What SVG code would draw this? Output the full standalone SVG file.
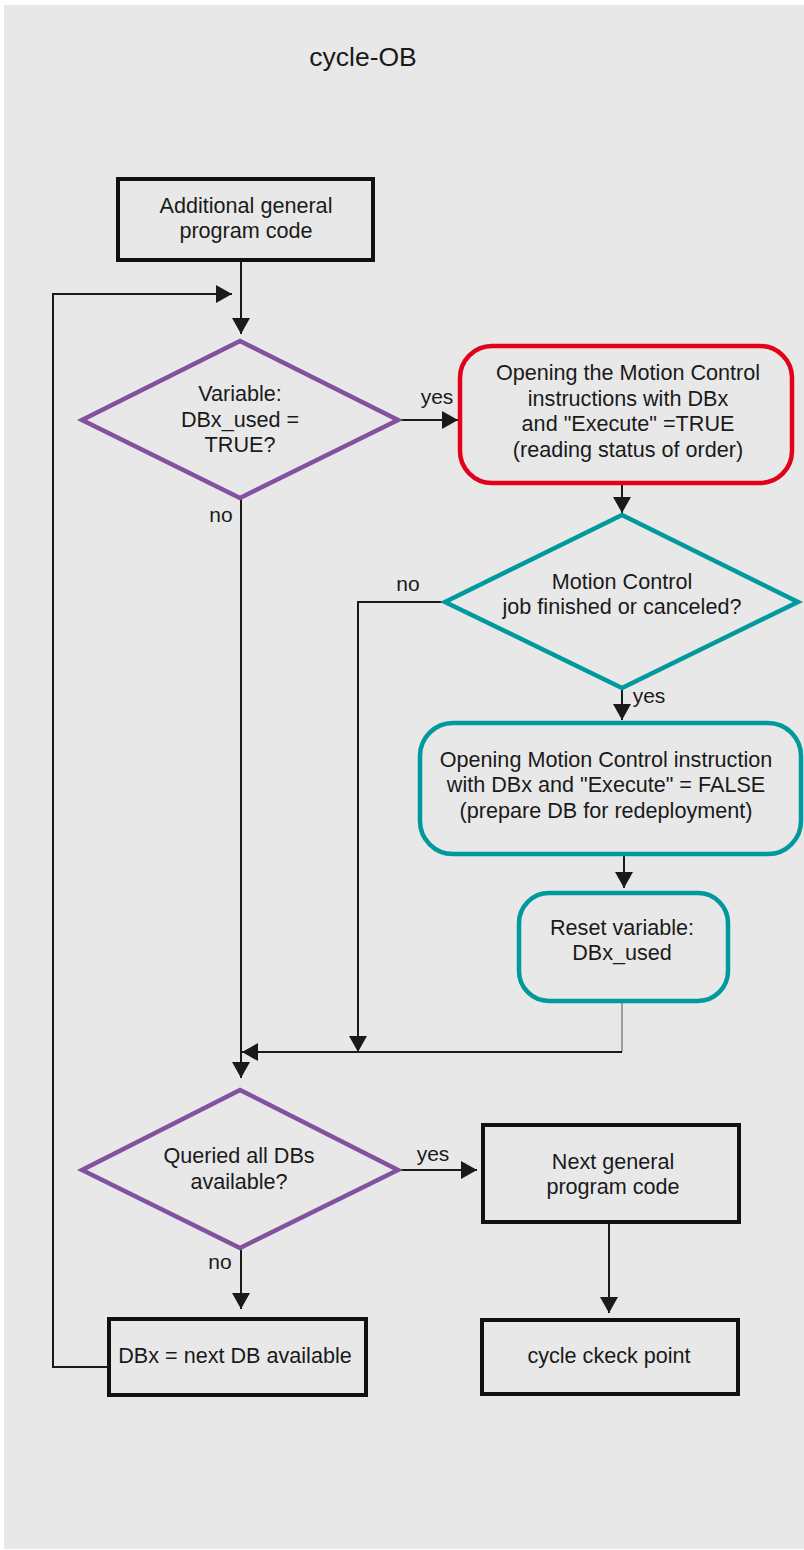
<svg xmlns="http://www.w3.org/2000/svg" width="804" height="1550" viewBox="0 0 804 1550">
<defs>
<marker id="ah" viewBox="0 0 16 18" refX="16" refY="9" markerWidth="16" markerHeight="18" markerUnits="userSpaceOnUse" orient="auto">
<path d="M0,0 L16,9 L0,18 z" fill="#1a1a1a"/>
</marker>
<style>
text{font-family:"Liberation Sans",Arial,sans-serif;font-size:21.6px;fill:#1a1a1a;text-anchor:middle}
.box{fill:none;stroke:#111;stroke-width:4}
.purple{fill:none;stroke:#8251a0;stroke-width:4.5;stroke-linejoin:miter}
.teal{fill:none;stroke:#00999e;stroke-width:4.5}
.red{fill:none;stroke:#e2001a;stroke-width:4.5}
.conn{fill:none;stroke:#1a1a1a;stroke-width:2}
.lbl{font-size:21px}
</style>
</defs>
<rect x="4" y="5" width="800" height="1544" fill="#e8e8e8"/>
<text x="363" y="66" style="font-size:26.5px">cycle-OB</text>

<g id="connectors">
<path class="conn" d="M241,262 V334" marker-end="url(#ah)"/>
<path class="conn" d="M107,1367 H53 V294 H232" marker-end="url(#ah)"/>
<path class="conn" d="M398,420 H458" marker-end="url(#ah)"/>
<path class="conn" d="M622,485 V513" marker-end="url(#ah)"/>
<path class="conn" d="M622,688 V720" marker-end="url(#ah)"/>
<path class="conn" d="M624,856 V888" marker-end="url(#ah)"/>
<path class="conn" d="M241,498 V1078" marker-end="url(#ah)"/>
<path class="conn" d="M445,602 H358 V1052" marker-end="url(#ah)"/>
<path d="M622,1003 V1052" fill="none" stroke="#8a8a8a" stroke-width="1.6"/>
<path class="conn" d="M622,1052 H242" marker-end="url(#ah)"/>
<path class="conn" d="M398,1170 H477" marker-end="url(#ah)"/>
<path class="conn" d="M241,1248 V1309" marker-end="url(#ah)"/>
<path class="conn" d="M609,1224 V1313" marker-end="url(#ah)"/>
<text class="lbl" x="437" y="404">yes</text>
<text class="lbl" x="221" y="522">no</text>
<text class="lbl" x="408" y="591">no</text>
<text class="lbl" x="649" y="703">yes</text>
<text class="lbl" x="433" y="1161">yes</text>
<text class="lbl" x="220" y="1269">no</text>
</g>

<g id="n-additional">
<rect class="box" x="118" y="179" width="255" height="81"/>
<text x="246" y="213">Additional general</text>
<text x="246" y="238">program code</text>
</g>

<g id="n-dbx-used">
<polygon class="purple" points="240,341 398,420 240,498 82,420"/>
<text x="240" y="401">Variable:</text>
<text x="240" y="427">DBx_used =</text>
<text x="240" y="452">TRUE?</text>
</g>

<g id="n-open-true">
<rect class="red" x="460" y="346" width="332" height="137" rx="32"/>
<text x="628" y="380">Opening the Motion Control</text>
<text x="628" y="406">instructions with DBx</text>
<text x="628" y="431">and "Execute" =TRUE</text>
<text x="628" y="457">(reading status of order)</text>
</g>

<g id="n-job-finished">
<polygon class="teal" points="622,515 798,602 622,688 445,602"/>
<text x="622" y="589">Motion Control</text>
<text x="622" y="614">job finished or canceled?</text>
</g>

<g id="n-open-false">
<rect class="teal" x="420" y="723" width="381" height="131" rx="33"/>
<text x="606" y="767">Opening Motion Control instruction</text>
<text x="606" y="792">with DBx and "Execute" = FALSE</text>
<text x="606" y="818">(prepare DB for redeployment)</text>
</g>

<g id="n-reset">
<rect class="teal" x="519" y="893" width="209" height="108" rx="30"/>
<text x="622" y="935">Reset variable:</text>
<text x="622" y="960">DBx_used</text>
</g>

<g id="n-queried">
<polygon class="purple" points="240,1090 398,1170 240,1248 82,1170"/>
<text x="239" y="1163">Queried all DBs</text>
<text x="239" y="1189">available?</text>
</g>

<g id="n-next-code">
<rect class="box" x="483" y="1125" width="256" height="97"/>
<text x="613" y="1169">Next general</text>
<text x="613" y="1194">program code</text>
</g>

<g id="n-next-db">
<rect class="box" x="109" y="1319" width="257" height="76"/>
<text x="235" y="1363">DBx = next DB available</text>
</g>

<g id="n-checkpoint">
<rect class="box" x="482" y="1320" width="256" height="74"/>
<text x="609" y="1363">cycle ckeck point</text>
</g>
</svg>
